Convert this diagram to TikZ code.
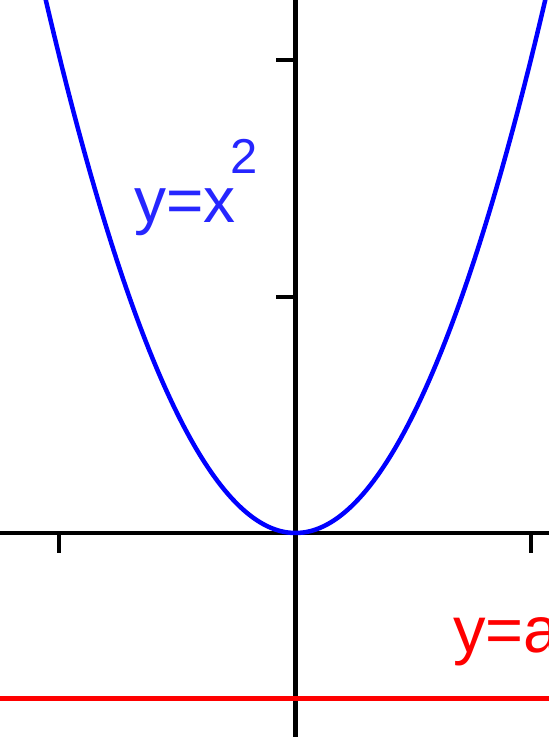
\documentclass[tikz,border=0pt]{standalone}
\usepackage{fontspec}
\setmainfont{Liberation Sans}
\begin{document}
\begin{tikzpicture}[x=1pt,y=-1pt,
  axis/.style={line width=4.5pt,black},
  tickmark/.style={line width=4.5pt,black},
  curve/.style={line width=4.5pt,blue},
  level/.style={line width=5pt,red},
  lbl/.style={inner sep=0pt,anchor=base west}]
\useasboundingbox (0,0) rectangle (549,737);
\clip (0,0) rectangle (549,737);
\coordinate (O) at (295.5,533);
\coordinate (xl) at (0,533);
\coordinate (xr) at (549,533);
\coordinate (yt) at (295.5,0);
\coordinate (yb) at (295.5,737);
\coordinate (rl) at (0,698);
\coordinate (rr) at (549,698);
% axes
\draw[axis] (xl) -- (xr);
\draw[axis] (yt) -- (yb);
% ticks
\coordinate (t1) at (59,533);
\coordinate (t2) at (531,533);
\coordinate (t3) at (295.5,60);
\coordinate (t4) at (295.5,297);
\draw[tickmark] (t1) -- ++(0,20);
\draw[tickmark] (t2) -- ++(0,20);
\draw[tickmark] (t3) -- ++(-20,0);
\draw[tickmark] (t4) -- ++(-20,0);
% parabola
\draw[curve] plot[domain=-1.12:1.12,samples=120,smooth] ({295.5+236*\x},{533-476*\x*\x});
% red line
\draw[level] (rl) -- (rr);
% labels
\node[lbl,blue!85!white] (lx) at (134,222) {\fontsize{64}{70}\selectfont y=x};
\node[lbl,blue!85!white] (l2) at (230,173) {\fontsize{49}{55}\selectfont 2};
\node[lbl,red] (la) at (453,652) {\fontsize{65}{72}\selectfont y=a};
\end{tikzpicture}
\end{document}
